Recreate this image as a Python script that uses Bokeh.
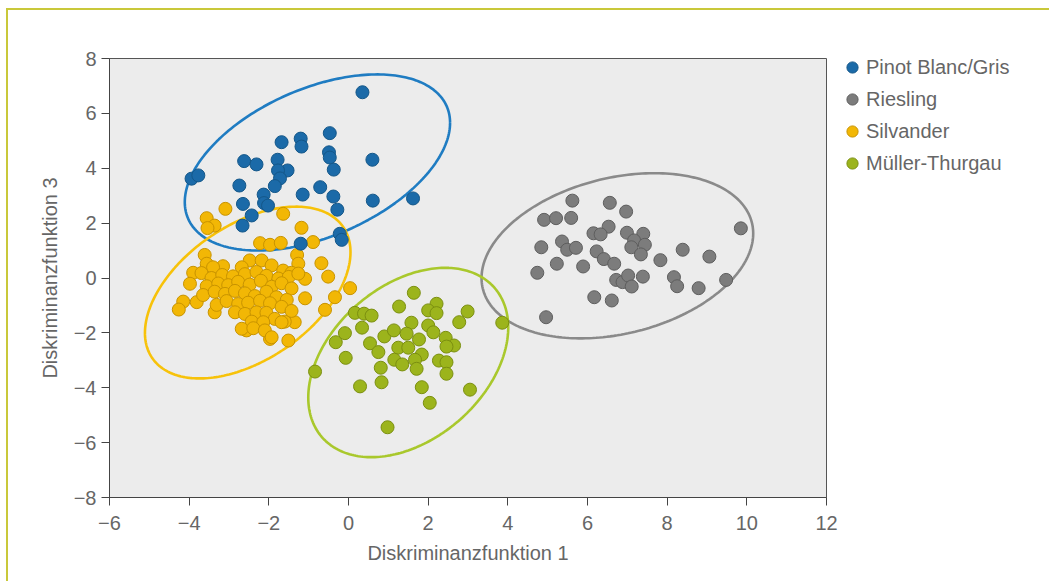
import numpy as np
from bokeh.plotting import figure
from bokeh.layouts import row
from bokeh.models import Range1d, FixedTicker, Legend, LegendItem
from bokeh.embed import file_html
from bokeh.resources import INLINE

# ---------------- data ----------------
categories = ["Pinot Blanc/Gris", "Riesling", "Silvander", "Müller-Thurgau"]

pinot_x = [0.35, -3.94, -3.77, -1.68, -1.20, -1.18, -0.47, -0.49, -0.47, -2.62,
           -2.31, -1.78, -1.53, -1.77, -1.72, 0.60, -0.37, -2.74, -1.85, -1.15,
           -0.71, -0.38, -2.13, -2.12, -2.02, -2.65, 0.61, 1.62, -0.28, -2.43,
           -2.66, -0.22, -0.17, -1.20]
pinot_y = [6.77, 3.62, 3.74, 4.95, 5.08, 4.79, 5.28, 4.58, 4.39, 4.26,
           4.14, 4.31, 3.92, 3.92, 3.63, 4.31, 3.95, 3.37, 3.35, 3.04,
           3.31, 2.97, 3.04, 2.73, 2.64, 2.70, 2.82, 2.90, 2.49, 2.28,
           1.91, 1.61, 1.39, 1.25]

riesling_x = [5.62, 6.56, 6.97, 4.91, 5.21, 5.59, 6.53, 6.15, 6.33, 6.99,
              7.40, 7.17, 7.44, 7.10, 7.34, 9.85, 4.84, 5.36, 5.49, 5.71,
              6.23, 6.41, 6.67, 7.83, 8.39, 9.06, 5.23, 5.89, 4.74, 6.72,
              6.88, 7.02, 7.11, 7.39, 8.17, 8.25, 8.79, 9.48, 6.17, 6.61, 4.96]
riesling_y = [2.82, 2.74, 2.42, 2.12, 2.18, 2.19, 1.87, 1.63, 1.59, 1.65,
              1.61, 1.37, 1.21, 1.12, 0.86, 1.81, 1.12, 1.33, 1.03, 1.10,
              0.97, 0.69, 0.52, 0.65, 1.03, 0.78, 0.52, 0.42, 0.19, -0.07,
              -0.15, 0.09, -0.31, 0.05, 0.03, -0.30, -0.37, -0.07, -0.70, -0.82, -1.43]

silvaner_x = [-3.09, -3.56, -3.36, -3.54, -1.64, -1.18, -2.22, -1.97, -1.70, -0.89,
              -3.61, -3.56, -1.29, -1.26, -0.68, -0.51, 0.04, -1.09, -1.09, -0.34,
              -0.59, -3.90, -3.98, -4.15, -4.26, -3.81, -3.36, -1.35, -1.60, -1.51,
              -1.97, -2.56,
              -2.48, -2.18, -2.68, -3.15, -3.40, -1.93, -1.64, -1.43,
              -3.69, -3.44, -3.17, -2.90, -2.60, -2.31, -2.06, -1.76, -1.50, -1.26,
              -3.56, -3.27, -3.02, -2.77, -2.48, -2.20, -1.93, -1.68, -1.43,
              -3.65, -3.36, -3.10, -2.85, -2.60, -2.35, -2.06, -1.81, -1.55,
              -3.31, -3.06, -2.77, -2.52, -2.22, -1.97, -1.68, -1.43,
              -2.85, -2.60, -2.31, -2.06, -1.85, -2.43, -2.14, -1.68,
              -2.68, -2.39, -2.10, -1.93]
silvaner_y = [2.52, 2.18, 1.91, 1.82, 2.34, 1.83, 1.27, 1.21, 1.28, 1.31,
              0.84, 0.52, 0.84, 0.52, 0.54, 0.05, -0.37, -0.03, -0.74, -0.70,
              -1.16, 0.19, -0.21, -0.86, -1.15, -0.88, -1.25, -1.61, -1.59, -2.28,
              -2.22, -1.91,
              0.64, 0.64, 0.39, 0.43, 0.39, 0.46, 0.27, 0.19,
              0.18, 0.00, 0.11, 0.06, 0.14, 0.22, 0.08, -0.02, 0.04, 0.16,
              -0.30, -0.20, -0.26, -0.14, -0.24, -0.10, -0.32, -0.19, -0.38,
              -0.62, -0.50, -0.58, -0.47, -0.56, -0.66, -0.50, -0.70, -0.80,
              -0.98, -0.84, -0.95, -0.90, -0.83, -0.92, -1.05, -1.20,
              -1.25, -1.31, -1.25, -1.27, -1.49, -1.59, -1.61, -1.61,
              -1.85, -1.83, -1.91, -2.16]

mueller_x = [1.64, 1.27, 2.21, 2.00, 2.21, 2.99, 2.78, 3.86, 0.16, 0.39,
             0.58, 0.34, -0.09, -0.32, 0.90, 1.14, 1.58, 2.00, 2.13, 1.46,
             1.77, 2.44, 2.65, 2.46, 0.54, 1.25, 1.50, 1.84, 0.75, -0.07,
             1.15, 1.35, 1.67, 1.71, 2.27, 2.46, 2.46, -0.84, 0.81, 0.83,
             0.29, 1.84, 3.05, 2.04, 0.98]
mueller_y = [-0.54, -1.04, -0.94, -1.18, -1.28, -1.22, -1.61, -1.63, -1.27, -1.30,
             -1.37, -1.81, -2.01, -2.34, -2.13, -1.91, -1.63, -1.73, -1.98, -2.03,
             -2.24, -2.18, -2.46, -2.50, -2.38, -2.54, -2.54, -2.79, -2.70, -2.91,
             -2.98, -3.15, -2.98, -3.31, -3.01, -3.07, -3.49, -3.41, -3.27, -3.80,
             -3.95, -3.98, -4.07, -4.55, -5.44]

# group ellipses (centre, x/y half-extent, correlation) in the order of categories
ellipse_cx = [-0.78, 6.75, -2.53, 1.50]
ellipse_cy = [4.21, 0.81, -0.53, -3.08]
ellipse_sx = [3.33, 3.41, 2.58, 2.51]
ellipse_sy = [3.21, 3.01, 3.13, 3.45]
ellipse_r = [0.45, 0.27, 0.47, 0.37]

x_ticks = [-6, -4, -2, 0, 2, 4, 6, 8, 10, 12]
x_tick_labels = ["−6", "−4", "−2", "0", "2", "4", "6", "8", "10", "12"]
y_ticks = [-8, -6, -4, -2, 0, 2, 4, 6, 8]
y_tick_labels = ["−8", "−6", "−4", "−2", "0", "2", "4", "6", "8"]

# ---------------- styles ----------------
fill_colors = ["#1b6aa8", "#7c7c7c", "#f2b705", "#9cb41c"]
edge_colors = ["#145789", "#5e5e5e", "#c89300", "#7b8f10"]
ring_colors = ["#1f7cc2", "#8a8a8a", "#f7c20a", "#a9c82c"]
FONT = "Liberation Sans"
TEXT = "#666666"

p = figure(width=830, height=571,
           x_range=Range1d(-6, 12), y_range=Range1d(-8, 8),
           output_backend="svg", toolbar_location=None,
           min_border_left=101, min_border_right=12,
           min_border_top=48, min_border_bottom=84,
           background_fill_color="#ececec", border_fill_color="#ffffff")

p.xgrid.visible = False
p.ygrid.visible = False
p.outline_line_color = "#555555"
p.outline_line_width = 1

for ax, ticks, labels in ((p.xaxis[0], x_ticks, x_tick_labels),
                          (p.yaxis[0], y_ticks, y_tick_labels)):
    ax.ticker = FixedTicker(ticks=ticks)
    ax.major_label_overrides = {t: l for t, l in zip(ticks, labels)}
    ax.axis_line_color = "#444444"
    ax.axis_line_width = 1
    ax.major_tick_line_color = "#444444"
    ax.major_tick_out = 8
    ax.major_tick_in = 0
    ax.minor_tick_out = 0
    ax.minor_tick_in = 0
    ax.major_label_text_font = FONT
    ax.major_label_text_font_size = "20px"
    ax.major_label_text_color = TEXT
    ax.axis_label_text_font = FONT
    ax.axis_label_text_font_size = "20px"
    ax.axis_label_text_font_style = "normal"
    ax.axis_label_text_color = TEXT

p.xaxis.axis_label = "Diskriminanzfunktion 1"
p.yaxis.axis_label = "Diskriminanzfunktion 3"
p.xaxis.major_label_standoff = 10
p.yaxis.major_label_standoff = 5
p.xaxis.axis_label_standoff = 9
p.yaxis.axis_label_standoff = 10

# ellipses
t = np.linspace(0, 2 * np.pi, 241)
for cx, cy, sx, sy, r, col in zip(ellipse_cx, ellipse_cy, ellipse_sx, ellipse_sy,
                                  ellipse_r, ring_colors):
    ex = cx + sx * np.cos(t)
    ey = cy + sy * (r * np.cos(t) + np.sqrt(1 - r * r) * np.sin(t))
    p.line(ex, ey, line_color=col, line_width=2.6)

# points
series = {
    "Silvander": (silvaner_x, silvaner_y, 2),
    "Pinot Blanc/Gris": (pinot_x, pinot_y, 0),
    "Müller-Thurgau": (mueller_x, mueller_y, 3),
    "Riesling": (riesling_x, riesling_y, 1),
}
for name, (xs, ys, i) in series.items():
    p.scatter(xs, ys, marker="circle", size=13,
              fill_color=fill_colors[i], line_color=edge_colors[i], line_width=1)

# legend panel (separate figure at the right, frame covering its whole canvas)
leg = figure(width=211, height=571, x_range=Range1d(0, 1), y_range=Range1d(0, 1),
             output_backend="svg", toolbar_location=None,
             x_axis_type=None, y_axis_type=None, min_border=0,
             background_fill_color="#ffffff", border_fill_color="#ffffff")
leg.frame_align = False
leg.outline_line_color = None
leg.xgrid.visible = False
leg.ygrid.visible = False
items = []
for i, c in enumerate(categories):
    # legend-only renderer: a single NaN point that is never drawn in the plot
    rr = leg.scatter(x=[float("nan")], y=[float("nan")], marker="circle", size=13,
                     fill_color=fill_colors[i], line_color=edge_colors[i], line_width=1)
    items.append(LegendItem(label=c, renderers=[rr]))

legend = Legend(items=items, location=(0, 404))
legend.margin = 0
legend.padding = 0
legend.glyph_width = 28
legend.glyph_height = 28
legend.spacing = 4
legend.label_standoff = -2
legend.label_text_font = FONT
legend.label_text_font_size = "20px"
legend.label_text_color = TEXT
legend.background_fill_alpha = 0
legend.border_line_alpha = 0
leg.add_layout(legend)

layout = row(p, leg, styles={"margin-left": "6px", "margin-top": "8px",
                             "border-top": "2px solid #c9c83a",
                             "border-left": "2px solid #c9c83a"})

open("out.html", "w").write(file_html(layout, INLINE))
